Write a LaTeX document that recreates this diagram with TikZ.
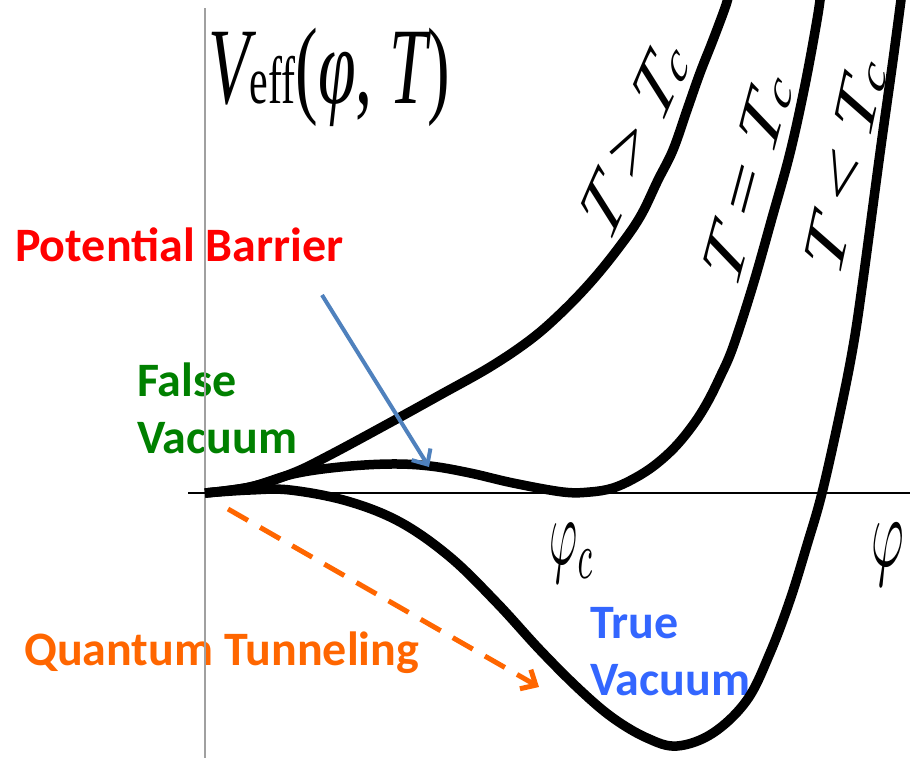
\documentclass[tikz,border=0pt]{standalone}
\usepackage{fontspec}
\newfontfamily\labelfont{Carlito}
\newfontfamily\timesfont{Liberation Serif}
\usetikzlibrary{arrows.meta}

\definecolor{barrierred}{RGB}{255,0,0}
\definecolor{falsegreen}{RGB}{0,128,0}
\definecolor{tunnelorange}{RGB}{255,102,0}
\definecolor{trueblue}{RGB}{51,102,255}
\definecolor{hintblue}{RGB}{79,129,189}
\definecolor{axisgray}{RGB}{160,160,160}

\newcommand{\tc}{T\raisebox{-0.05em}{\fontsize{38}{40}\selectfont c}}
\newcommand{\rel}[1]{\hspace{0.22em}{\upshape#1}\hspace{0.22em}}

\begin{document}
\begin{tikzpicture}[x=1pt, y=-1pt,
  potential/.style={line width=9.5pt, line join=round},
  callout/.style={inner sep=0pt, anchor=base west, align=left,
    font=\labelfont\bfseries\fontsize{48}{57}\selectfont},
  templabel/.style={inner sep=0pt, yscale=1.6,
    font=\timesfont\itshape\fontsize{58}{60}\selectfont},
  axis/.style={line width=1.4pt},
  hint/.style={-{Straight Barb[length=12pt,width=22pt]}, line width=4pt}
]
\useasboundingbox (0,0) rectangle (910,758);

% labels
\node[callout, text=barrierred] (barrier) at (15,261) {Potential Barrier};
\node[callout, text=falsegreen] (falsevac) at (137,453) {False\\Vacuum};
\node[callout, text=tunnelorange] (tunnel) at (24,665) {Quantum Tunneling};
\node[callout, text=trueblue] (truevac) at (590,695) {True\\Vacuum};

% axes
\draw[axis, axisgray] (205,8) -- (205,758);
\draw[axis] (188,493) -- (910,493);

% potential for three temperatures
\begin{scope}
\clip (0,0) rectangle (910,758);
\draw[potential] plot[smooth, tension=0.6] coordinates {(205,493) (250,487) (293,473) (330,455)
  (393,421) (440,395) (490,367) (530,340) (560,314) (590,283) (617,250) (640,217) (658,180)
  (673,150) (687,110) (700,73) (713,40) (726,5) (729,-8)};
\draw[potential] plot[smooth, tension=0.6] coordinates {(205,493) (250,487) (293,474) (340,467)
  (390,464) (430,466) (470,473) (513,483) (563,492) (590,492) (613,488) (635,478) (655,465)
  (675,447) (693,425) (707,403) (720,377) (733,347) (753,285) (772,218) (790,153) (805,85)
  (817,20) (821,-8)};
\draw[potential] plot[smooth, tension=0.6] coordinates {(205,493) (250,490) (290,490) (347,501)
  (400,522) (450,557) (497,603) (540,650) (580,690) (613,718) (647,738) (677,746) (713,733)
  (747,700) (770,653) (790,600) (807,545) (822,493) (840,413) (853,347) (863,280) (880,153)
  (893,60) (902,-8)};
\end{scope}

\node[templabel, rotate=55.2] (above) at (635,138) {T\rel{>}\tc};
\node[templabel, rotate=66.8] (equal) at (748,178) {T\rel{=}\tc};
\node[templabel, rotate=71.2] (below) at (846,165) {T\rel{<}\tc};

\node[anchor=base west, inner sep=0pt, yscale=1.6,
  font=\timesfont\fontsize{68}{72}\selectfont] (veff) at (208,103)
  {\itshape V\upshape{\fontsize{42}{44}\selectfont eff}(\itshape φ\upshape, \itshape T\upshape)};
\node[anchor=base west, inner sep=0pt, xscale=4.3, yscale=9.5] (phic) at (549,564) {$\varphi_c$};
\node[anchor=base west, inner sep=0pt, xscale=5, yscale=10] (phi) at (870,566) {$\varphi$};

% arrows
\coordinate (barrier tail) at (322,295);
\coordinate (barrier tip) at (429,467);
\draw[hint, hintblue] (barrier tail) -- (barrier tip);
\coordinate (tunnel tail) at (228,509);
\coordinate (tunnel tip) at (539,687);
\draw[hint, tunnelorange, line width=5pt, dash pattern=on 23pt off 14pt] (tunnel tail) -- (tunnel tip);
\end{tikzpicture}
\end{document}
